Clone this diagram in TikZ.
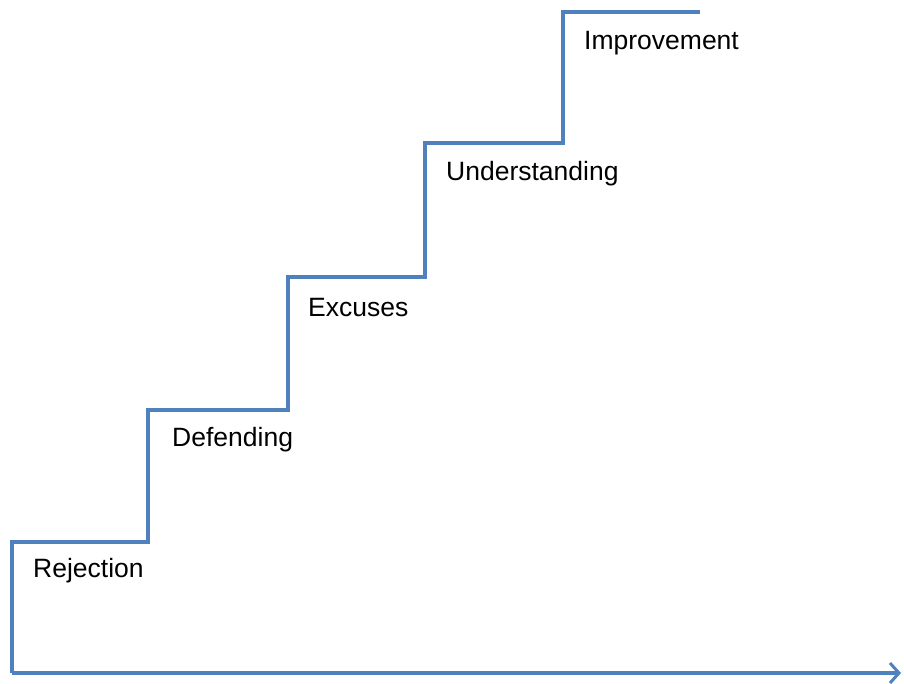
\documentclass[tikz,border=0pt]{standalone}
\usepackage{fontspec}
\setmainfont{Liberation Sans}
\usetikzlibrary{arrows.meta}
\definecolor{stairblue}{HTML}{4F81BD}
\begin{document}
\begin{tikzpicture}[x=1pt,y=-1pt,
  stair/.style={draw=stairblue,line width=4pt,line join=miter},
  lbl/.style={anchor=west,inner sep=0pt,font=\fontsize{26.5}{31}\selectfont}]
\useasboundingbox (0,0) rectangle (904,683);
\coordinate (s0) at (12,542);
\coordinate (bl) at (12,673);
\coordinate (br) at (901,673);
\coordinate (top) at (700,12);
\draw[stair] (top) -- (563,12) -- (563,143) -- (425,143) -- (425,277) -- (288,277) -- (288,410) -- (148,410) -- (148,542) -- (s0) -- (bl);
\draw[stair,-{Straight Barb[length=9pt,width=20pt,line width=3pt]}] (bl) -- (br);
\node[lbl] (r) at (33,571) {Rejection};
\node[lbl] (d) at (172,440) {Defending};
\node[lbl] (e) at (308,308) {Excuses};
\node[lbl] (u) at (446,174) {Understanding};
\node[lbl] (i) at (584,43) {Improvement};
\end{tikzpicture}
\end{document}
